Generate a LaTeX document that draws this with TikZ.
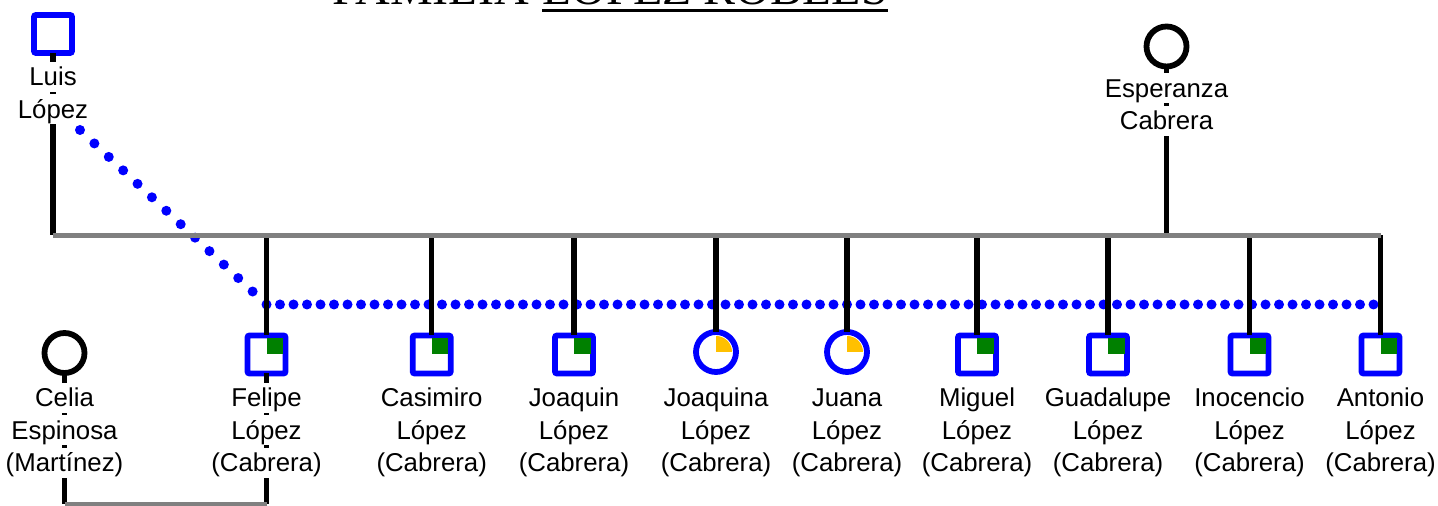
\documentclass[tikz,border=0pt]{standalone}
\usepackage{fontspec}
\setmainfont{Liberation Sans}
\newfontfamily\titlefont{Liberation Serif}
\usetikzlibrary{calc}
\definecolor{kgreen}{RGB}{0,128,0}
\definecolor{kamber}{RGB}{255,192,0}
\definecolor{kgray}{RGB}{128,128,128}
\definecolor{kblue}{RGB}{0,0,255}
\newcommand\namelines[4]{\foreach \t [count=\i] in {#4}{\node[lbl] (#1-\i) at ({#2},{#3+32.5*(\i-1)}) {\t};}}
\begin{document}
\begin{tikzpicture}[x=0.5pt,y=-0.5pt,
 male/.style={draw=kblue, line width=2.9pt, rectangle, minimum size=19pt, inner sep=0pt, outer sep=0pt, rounded corners=1pt},
 female/.style={draw=kblue, line width=2.9pt, circle, minimum size=20pt, inner sep=0pt, outer sep=0pt},
 bfemale/.style={female, draw=black},
 lbl/.style={anchor=base, fill=white, inner xsep=1pt, inner ysep=0pt, text height=12pt, text depth=3pt, font=\fontsize{12.9pt}{15pt}\selectfont},
 kid/.style={draw=black, line width=2.75pt},
 union/.style={draw=kgray, line width=2.75pt},
 dots/.style={draw=kblue, line width=5pt, line cap=round},
 sonmark/.style={fill=kgreen},
 daughtermark/.style={fill=kamber},
 ttl/.style={font=\titlefont\fontsize{24pt}{28pt}\selectfont, inner sep=0pt, anchor=base west}
]
\path[use as bounding box, fill=white] (0,0) rectangle (1438,506);

% title (clipped at top, as in the reference)
\node[ttl] (title1) at (332,5) {FAMILIA};
\node[ttl] (title2) at (542,5) {LÓPEZ ROBLES};
\draw[line width=1.65pt] ($(title2.base west)+(0,5.5)$) -- ($(title2.base east)+(0,5.5)$);

% persons
\node[male] (luis) at (53,34) {};
\node[bfemale] (esperanza) at (1166.5,46.5) {};
\node[bfemale] (celia) at (64.5,353) {};
\node[male] (felipe) at (266.5,354.5) {};
\node[male] (casimiro) at (431.7,354.5) {};
\node[male] (joaquin) at (574,354.5) {};
\node[female] (joaquina) at (716,352) {};
\node[female] (juana) at (847,352) {};
\node[male] (miguel) at (977,354.5) {};
\node[male] (guadalupe) at (1108,354.5) {};
\node[male] (inocencio) at (1249.5,354.5) {};
\node[male] (antonio) at (1380.5,354.5) {};

\coordinate (jl) at (53,235.5);
\coordinate (dstart) at (80,130);
\coordinate (dh) at (0,304.5);
\coordinate (jb) at (0,504);

% dotted connector
\draw[dots, dash pattern=on 0pt off 9.85pt] (dstart) -- (felipe |- dh);
\draw[dots, dash pattern=on 0pt off 6.75pt] (felipe |- dh) -- (antonio |- dh);

% black descent lines
\draw[kid] (luis.south) -- (luis |- jl);
\draw[kid] (esperanza.south) -- (esperanza |- jl);
\foreach \k in {felipe,casimiro,joaquin,joaquina,juana,miguel,guadalupe,inocencio,antonio}
  \draw[kid] (\k |- jl) -- (\k.north);
\draw[kid] (felipe.south) -- (felipe |- jb);
\draw[kid] (celia.south) -- (celia |- jb);

% union lines
\draw[union] (luis |- jl) -- (antonio |- jl);
\draw[draw=kgray, line width=2pt] (celia |- jb) -- (felipe |- jb);

% quarter marks
\foreach \k in {felipe,casimiro,joaquin,miguel,guadalupe,inocencio,antonio}
  \fill[sonmark] (\k.center) rectangle ++(16.5,-16.5);
\foreach \k in {joaquina,juana}
  \fill[daughtermark] (\k.center) -- ++(16,0) arc[start angle=0, end angle=-90, radius=16] -- cycle;

% labels
\namelines{luisl}{53}{86}{Luis,López}
\namelines{esperanzal}{1166.5}{97.5}{Esperanza,Cabrera}
\namelines{celial}{64.5}{407}{Celia,Espinosa,(Martínez)}
\namelines{felipel}{266.5}{407}{Felipe,López,(Cabrera)}
\namelines{casimirol}{431.7}{407}{Casimiro,López,(Cabrera)}
\namelines{joaquinl}{574}{407}{Joaquin,López,(Cabrera)}
\namelines{joaquinal}{716}{407}{Joaquina,López,(Cabrera)}
\namelines{juanal}{847}{407}{Juana,López,(Cabrera)}
\namelines{miguell}{977}{407}{Miguel,López,(Cabrera)}
\namelines{guadalupel}{1108}{407}{Guadalupe,López,(Cabrera)}
\namelines{inocenciol}{1249.5}{407}{Inocencio,López,(Cabrera)}
\namelines{antoniol}{1380.5}{407}{Antonio,López,(Cabrera)}
\end{tikzpicture}
\end{document}
